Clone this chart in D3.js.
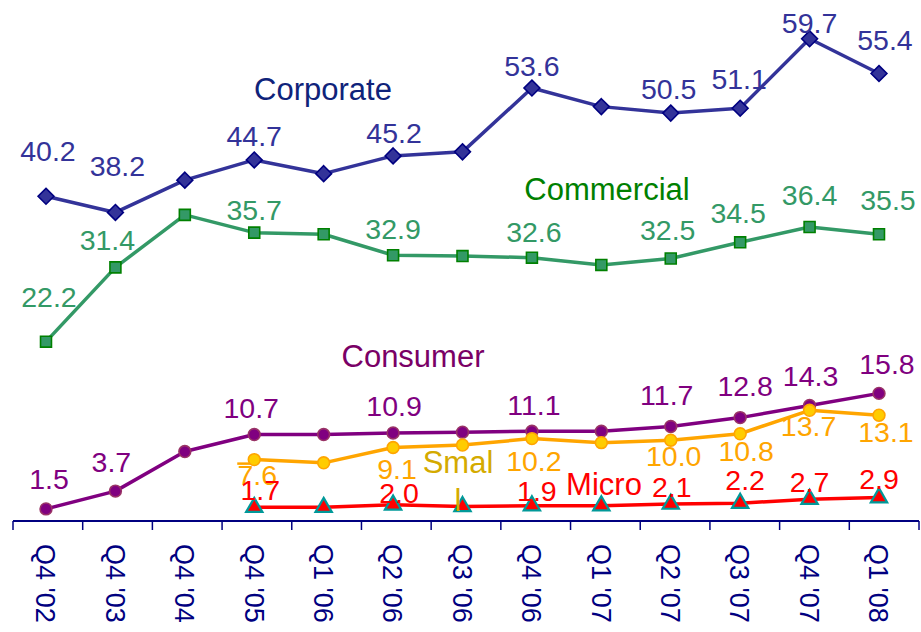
<!DOCTYPE html>
<html>
<head>
<meta charset="utf-8">
<script src="https://cdn.jsdelivr.net/npm/d3@7"></script>
<style>
  html, body { margin: 0; padding: 0; background: #ffffff; }
  svg { display: block; font-family: "Liberation Sans", Arial, sans-serif; }
</style>
</head>
<body>
<svg id="chart" width="921" height="632"></svg>
<script>
// Quarterly figures by segment
const categories = ["Q4 '02", "Q4 '03", "Q4 '04", "Q4 '05", "Q1 '06", "Q2 '06", "Q3 '06",
                    "Q4 '06", "Q1 '07", "Q2 '07", "Q3 '07", "Q4 '07", "Q1 '08"];
const corporate  = [40.2, 38.2, 42.2, 44.7, 43.0, 45.2, 45.7, 53.6, 51.3, 50.5, 51.1, 59.7, 55.4];
const commercial = [22.2, 31.4, 37.9, 35.7, 35.5, 32.9, 32.8, 32.6, 31.7, 32.5, 34.5, 36.4, 35.5];
const consumer   = [1.5, 3.7, 8.6, 10.7, 10.7, 10.9, 11.0, 11.1, 11.1, 11.7, 12.8, 14.3, 15.8];
const small      = [null, null, null, 7.6, 7.2, 9.1, 9.4, 10.2, 9.7, 10.0, 10.8, 13.7, 13.1];
const micro      = [null, null, null, 1.7, 1.7, 2.0, 1.8, 1.9, 1.9, 2.1, 2.2, 2.7, 2.9];
// quarters that carry a value label
const labelledQuarters = [0, 1, 3, 5, 7, 9, 10, 11, 12];
const seriesNames = ["Corporate", "Commercial", "Consumer", "Small", "Micro"];

const svg = d3.select("#chart");

const xBand = d3.scaleBand().domain(categories).range([13, 919]).paddingInner(0).paddingOuter(0);
const x = d3.scalePoint().domain(categories).range([46, 879]);
const y = d3.scaleLinear().domain([0, 64.5]).range([521, 0]);

// label nudges (dx, dy to baseline) per quarter
const nudges = {
  Corporate:  [[2,-35],[2,-36],null,[0,-14],null,[1,-13],null,[0,-12],null,[-2,-14],[-1,-19],[0,-6],[6,-24]],
  Commercial: [[3,-35],[-8,-17],null,[0,-13],null,[0,-16],null,[2,-16],null,[-3,-18],[-2,-19],[0,-22],[9,-24]],
  Consumer:   [[3,-20],[-4,-19],null,[-3,-17],null,[1,-17],null,[2,-16],null,[-4,-21],[5,-22],[1,-19],[8,-19]],
  Small:      [null,null,null,[3,25],null,[4,32],null,[2,32],null,[3,26],[6,27],[-1,26],[7,27]],
  Micro:      [null,null,null,[6,-7],null,[6,-2],null,[5,-5],null,[1,-7],[5,-13],[0,-7],[0,-9]]
};

const styles = {
  Corporate:  { line: "#333399", fill: "#333399", stroke: "#000080", text: "#333399", name: "#0f237a", shape: "diamond" },
  Commercial: { line: "#339966", fill: "#339966", stroke: "#008000", text: "#339966", name: "#008000", shape: "square" },
  Consumer:   { line: "#800080", fill: "#800080", stroke: "#993366", text: "#800080", name: "#7a0066", shape: "circle" },
  Small:      { line: "#ffa500", fill: "#ffcc00", stroke: "#ffa500", text: "#ffa500", name: "#d4aa00", shape: "circle" },
  Micro:      { line: "#ff0000", fill: "#ff0000", stroke: "#009999", text: "#ff0000", name: "#ff0000", shape: "triangle" }
};

const seriesValues = [corporate, commercial, consumer, small, micro];

// x axis: baseline, boundary ticks, rotated quarter labels
const axisG = svg.append("g");
axisG.append("line")
  .attr("x1", xBand.range()[0]).attr("x2", xBand.range()[1])
  .attr("y1", y(0)).attr("y2", y(0))
  .attr("stroke", "#000080").attr("stroke-width", 2);
const boundaries = categories.map(c => xBand(c)).concat([xBand.range()[1]]);
axisG.selectAll("line.tick").data(boundaries).join("line")
  .attr("class", "tick")
  .attr("x1", d => d).attr("x2", d => d)
  .attr("y1", y(0)).attr("y2", y(0) + 9)
  .attr("stroke", "#000080").attr("stroke-width", 1.5);
axisG.selectAll("text.qlabel").data(categories).join("text")
  .attr("class", "qlabel")
  .attr("transform", d => `translate(${x(d)},${y(0) + 23}) rotate(90)`)
  .attr("dy", "0.36em")
  .attr("font-size", 27)
  .attr("fill", "#000080")
  .text(d => d);

// lines
const lineGen = d3.line()
  .defined(d => d.v !== null)
  .x(d => x(d.c))
  .y(d => y(d.v));

seriesNames.forEach((name, si) => {
  const st = styles[name];
  const pts = categories.map((c, i) => ({ c, i, v: seriesValues[si][i] }));
  svg.append("path")
    .datum(pts)
    .attr("d", lineGen)
    .attr("fill", "none")
    .attr("stroke", st.line)
    .attr("stroke-width", 3.5)
    .attr("stroke-linejoin", "round");
});

// short leader at the start of the Small series
{
  const i0 = small.findIndex(v => v !== null);
  svg.append("line")
    .attr("x1", x(categories[i0]) - 17).attr("x2", x(categories[i0]))
    .attr("y1", y(small[i0]) + 4).attr("y2", y(small[i0]) + 4)
    .attr("stroke", "#ffa500").attr("stroke-width", 2.5);
}

// markers
const symbolFor = {
  diamond: d3.symbol().type(d3.symbolDiamond2).size(160),
  square: d3.symbol().type(d3.symbolSquare).size(120),
  circle: d3.symbol().type(d3.symbolCircle).size(110),
  triangle: d3.symbol().type(d3.symbolTriangle).size(115)
};

seriesNames.forEach((name, si) => {
  const st = styles[name];
  const pts = categories.map((c, i) => ({ c, i, v: seriesValues[si][i] })).filter(d => d.v !== null);
  svg.append("g").selectAll("path").data(pts).join("path")
    .attr("transform", d => `translate(${x(d.c)},${y(d.v)})`)
    .attr("d", symbolFor[st.shape]())
    .attr("fill", st.fill)
    .attr("stroke", st.stroke)
    .attr("stroke-width", st.shape === "triangle" ? 2.2 : 1.6);
});

// value labels
seriesNames.forEach((name, si) => {
  const st = styles[name];
  const pts = labelledQuarters
    .map(i => ({ c: categories[i], i, v: seriesValues[si][i], n: nudges[name][i] }))
    .filter(d => d.v !== null && d.n);
  svg.append("g").selectAll("text").data(pts).join("text")
    .attr("x", d => x(d.c) + d.n[0])
    .attr("y", d => y(d.v) + d.n[1])
    .attr("text-anchor", "middle")
    .attr("font-size", 28.5)
    .attr("fill", st.text)
    .text(d => d3.format(".1f")(d.v));
});

// series names
const nameLabels = [
  { name: "Corporate",  x: 323, y: 100, lines: ["Corporate"] },
  { name: "Commercial", x: 607, y: 200, lines: ["Commercial"] },
  { name: "Consumer",   x: 413, y: 367, lines: ["Consumer"] },
  { name: "Small",      x: 458, y: 473, lines: ["Smal", "l"] },
  { name: "Micro",      x: 604, y: 495, lines: ["Micro"] }
];
nameLabels.forEach(lb => {
  const t = svg.append("text")
    .attr("x", lb.x).attr("y", lb.y)
    .attr("text-anchor", "middle")
    .attr("font-size", 31)
    .attr("fill", styles[lb.name].name);
  lb.lines.forEach((ln, k) => {
    t.append("tspan").attr("x", lb.x).attr("dy", k === 0 ? 0 : 38).text(ln);
  });
});
</script>
</body>
</html>
